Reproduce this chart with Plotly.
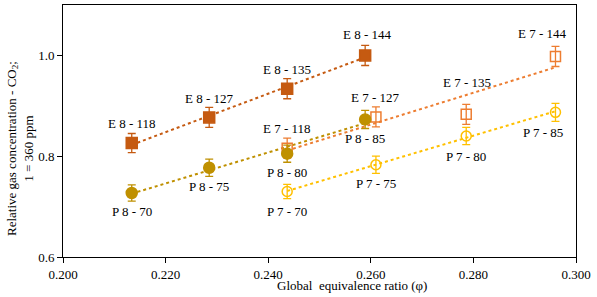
import numpy as np
import plotly.graph_objects as go

# ---- data ----
e8_x = [0.2134, 0.2285, 0.2437, 0.2589]
e8_y = [0.826, 0.877, 0.934, 1.000]
e8_err = [0.019, 0.020, 0.020, 0.020]
e8_lbl = ["E 8 - 118", "E 8 - 127", "E 8 - 135", "E 8 - 144"]

e7_x = [0.2437, 0.2610, 0.2786, 0.2960]
e7_y = [0.816, 0.878, 0.883, 0.998]
e7_err = [0.020, 0.020, 0.020, 0.020]
e7_lbl = ["E 7 - 118", "E 7 - 127", "E 7 - 135", "E 7 - 144"]

p8_x = [0.2134, 0.2285, 0.2437, 0.2589]
p8_y = [0.727, 0.777, 0.805, 0.873]
p8_err = [0.016, 0.017, 0.017, 0.018]
p8_lbl = ["P 8 - 70", "P 8 - 75", "P 8 - 80", "P 8 - 85"]

p7_x = [0.2437, 0.2610, 0.2786, 0.2960]
p7_y = [0.730, 0.783, 0.840, 0.887]
p7_err = [0.014, 0.017, 0.017, 0.018]
p7_lbl = ["P 7 - 70", "P 7 - 75", "P 7 - 80", "P 7 - 85"]

x_ticks = [0.200, 0.220, 0.240, 0.260, 0.280, 0.300]
y_ticks = [0.6, 0.8, 1.0]

FONT = "Liberation Serif"

series = [
    dict(x=e8_x, y=e8_y, err=e8_err, lbl=e8_lbl, color="#C55A11", symbol="square", filled=True,
         offs=[(0, 20), (0, 19), (0, 19), (2, 21)]),
    dict(x=e7_x, y=e7_y, err=e7_err, lbl=e7_lbl, color="#ED7D31", symbol="square-open", filled=False,
         offs=[(0, 20), (0, 19), (1, 32), (-13, 23)]),
    dict(x=p8_x, y=p8_y, err=p8_err, lbl=p8_lbl, color="#BF9000", symbol="circle", filled=True,
         offs=[(0, -19), (0, -19), (0, -19), (0, -19)]),
    dict(x=p7_x, y=p7_y, err=p7_err, lbl=p7_lbl, color="#FFC000", symbol="circle-open", filled=False,
         offs=[(0, -20), (0, -19), (0, -20), (-12, -20)]),
]

fig = go.Figure()
annotations = []
for s in series:
    xs = np.array(s["x"])
    ys = np.array(s["y"])
    k, b = np.polyfit(xs, ys, 1)
    xl = np.array([xs.min(), xs.max()])
    fig.add_trace(go.Scatter(x=xl, y=k * xl + b, mode="lines",
                             line=dict(color=s["color"], width=2, dash="dot"),
                             hoverinfo="skip", showlegend=False))
for s in series:
    fig.add_trace(go.Scatter(
        x=s["x"], y=s["y"], mode="markers", showlegend=False,
        marker=dict(symbol=s["symbol"], size=11 if s["filled"] else 10,
                    color=s["color"], line=dict(color=s["color"], width=1.5)),
        error_y=dict(type="data", array=s["err"], visible=True, color=s["color"],
                     thickness=1.3, width=4),
    ))
    for xv, yv, t, (dx, dy) in zip(s["x"], s["y"], s["lbl"], s["offs"]):
        annotations.append(dict(x=xv, y=yv, text=t, showarrow=False, xshift=dx, yshift=dy,
                                font=dict(family=FONT, size=13, color="black")))

annotations.append(dict(text="Relative gas concentration - CO<sub>2</sub>;<br>1 = 360 ppm",
                        xref="paper", yref="paper", x=-0.085, y=0.43, textangle=-90,
                        showarrow=False, xanchor="center", yanchor="middle",
                        font=dict(family=FONT, size=13, color="black")))
annotations.append(dict(text="Global  equivalence ratio (φ)", xref="paper", yref="paper",
                        x=0.563, y=-0.113, showarrow=False, xanchor="center", yanchor="middle",
                        borderpad=0,
                        font=dict(family=FONT, size=13, color="black")))

axis_common = dict(showline=True, linecolor="black", linewidth=1, mirror=True,
                   ticks="outside", ticklen=5, tickcolor="black", showgrid=False,
                   zeroline=False, tickfont=dict(family=FONT, size=13, color="black"))

fig.update_layout(
    width=597, height=297,
    margin=dict(l=63, r=21, t=5, b=40),
    paper_bgcolor="white", plot_bgcolor="white",
    font=dict(family=FONT),
    xaxis=dict(range=[0.2, 0.3], tickvals=x_ticks, tickformat=".3f", **axis_common),
    yaxis=dict(range=[0.6, 1.1], tickvals=y_ticks, tickformat=".1f", **axis_common),
    annotations=annotations,
)
fig.write_html("out.html", config={"displayModeBar": False},
               post_script="document.body.style.margin='0';")
